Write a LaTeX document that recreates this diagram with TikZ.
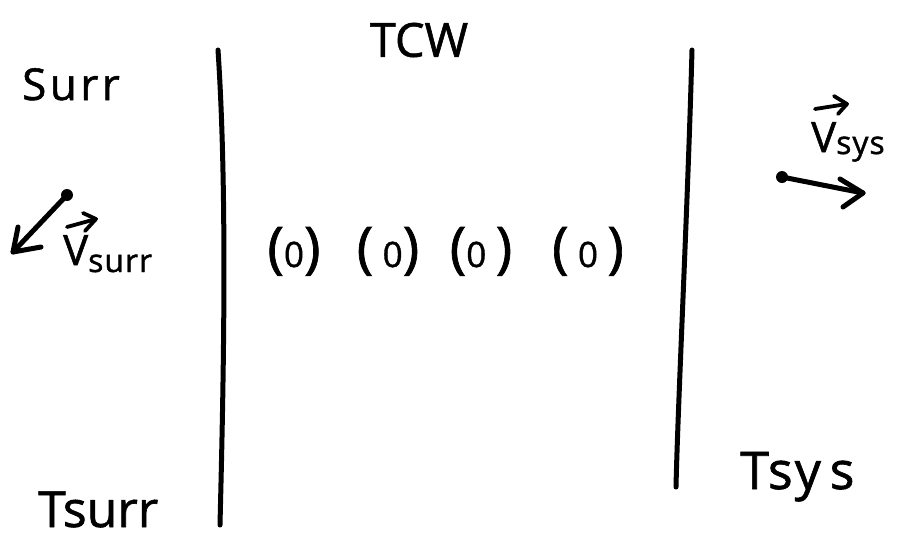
\documentclass[tikz,border=0pt]{standalone}
\usepackage{fontspec}
\setmainfont{Open Sans}[FakeBold=1.2]
\usetikzlibrary{arrows.meta}
\tikzset{
  ink/.style={line width=5pt, line cap=round, line join=round, black},
  thinink/.style={line width=3.8pt, line cap=round, line join=round, black},
  lbl/.style={inner sep=0pt, font=\fontsize{40}{44}\selectfont},
  paren/.style={lbl, anchor=base, font=\fontsize{56}{60}\selectfont},
}
\newcommand{\zed}{{\fontsize{35}{37}\selectfont 0}}
\begin{document}
\begin{tikzpicture}[x=1pt,y=-1pt]
  \useasboundingbox (0,0) rectangle (898,539);

  % title and region labels
  \node[lbl, font=\fontsize{47}{50}\selectfont] (tcw) at (419,40) {TCW};
  \node[lbl, anchor=base west, font=\fontsize{44}{48}\selectfont\addfontfeature{LetterSpace=8}] (surr) at (22,100) {Surr};
  \node[lbl, anchor=base west, font=\fontsize{52}{56}\selectfont\addfontfeature{LetterSpace=4}] (tsys) at (740,489) {Tsy\,s};
  \node[lbl, anchor=base west, font=\fontsize{50}{54}\selectfont] (tsurr) at (38,527) {Tsurr};

  % the two walls
  \coordinate (lw1) at (218,50);
  \coordinate (lw2) at (220,525);
  \coordinate (rw1) at (692,50);
  \coordinate (rw2) at (676,487);
  \draw[ink] (lw1) .. controls (228,200) and (223,400) .. (lw2);
  \draw[ink] (rw1) .. controls (688,200) and (678,400) .. (rw2);

  % particles in the wall
  \node[paren] (p1) at (294,267) {(\zed)};
  \node[paren] (p2) at (388,267) {(\,\zed)};
  \node[paren] (p3) at (481,267) {(\zed\,)};
  \node[paren] (p4) at (588,267) {(\,\zed\,)};

  % surroundings velocity
  \coordinate (sd) at (67,195);
  \coordinate (st) at (13,252);
  \coordinate (sb1) at (18,227);
  \coordinate (sb2) at (41,247);
  \fill (sd) circle (6pt);
  \draw[ink] (sd) -- (st);
  \draw[ink] (sb1) -- (st) -- (sb2);
  \node[lbl, anchor=base west, font=\fontsize{42}{46}\selectfont] (vsurr) at (63,265)
    {V\raisebox{-7pt}{\fontsize{32}{34}\selectfont\addfontfeature{LetterSpace=3}surr}};
  \coordinate (va1) at (67,227);
  \coordinate (va2) at (96,219);
  \draw[thinink] (va1) -- (va2);
  \draw[thinink] (83,213) -- (va2) -- (85,231);

  % system velocity
  \coordinate (yd) at (782,177);
  \coordinate (yt) at (863,193);
  \coordinate (yb1) at (840,179);
  \coordinate (yb2) at (843,207);
  \fill (yd) circle (6pt);
  \draw[ink] (yd) -- (yt);
  \draw[ink] (yb1) -- (yt) -- (yb2);
  \node[lbl, anchor=base west, font=\fontsize{42}{46}\selectfont] (vsys) at (811,152)
    {V\raisebox{-2pt}{\fontsize{32}{34}\selectfont\addfontfeature{LetterSpace=3}sys}};
  \coordinate (vb1) at (815,109);
  \coordinate (vb2) at (847,104);
  \draw[thinink] (vb1) -- (vb2);
  \draw[thinink] (834,96) -- (vb2) -- (838,114);
\end{tikzpicture}
\end{document}
